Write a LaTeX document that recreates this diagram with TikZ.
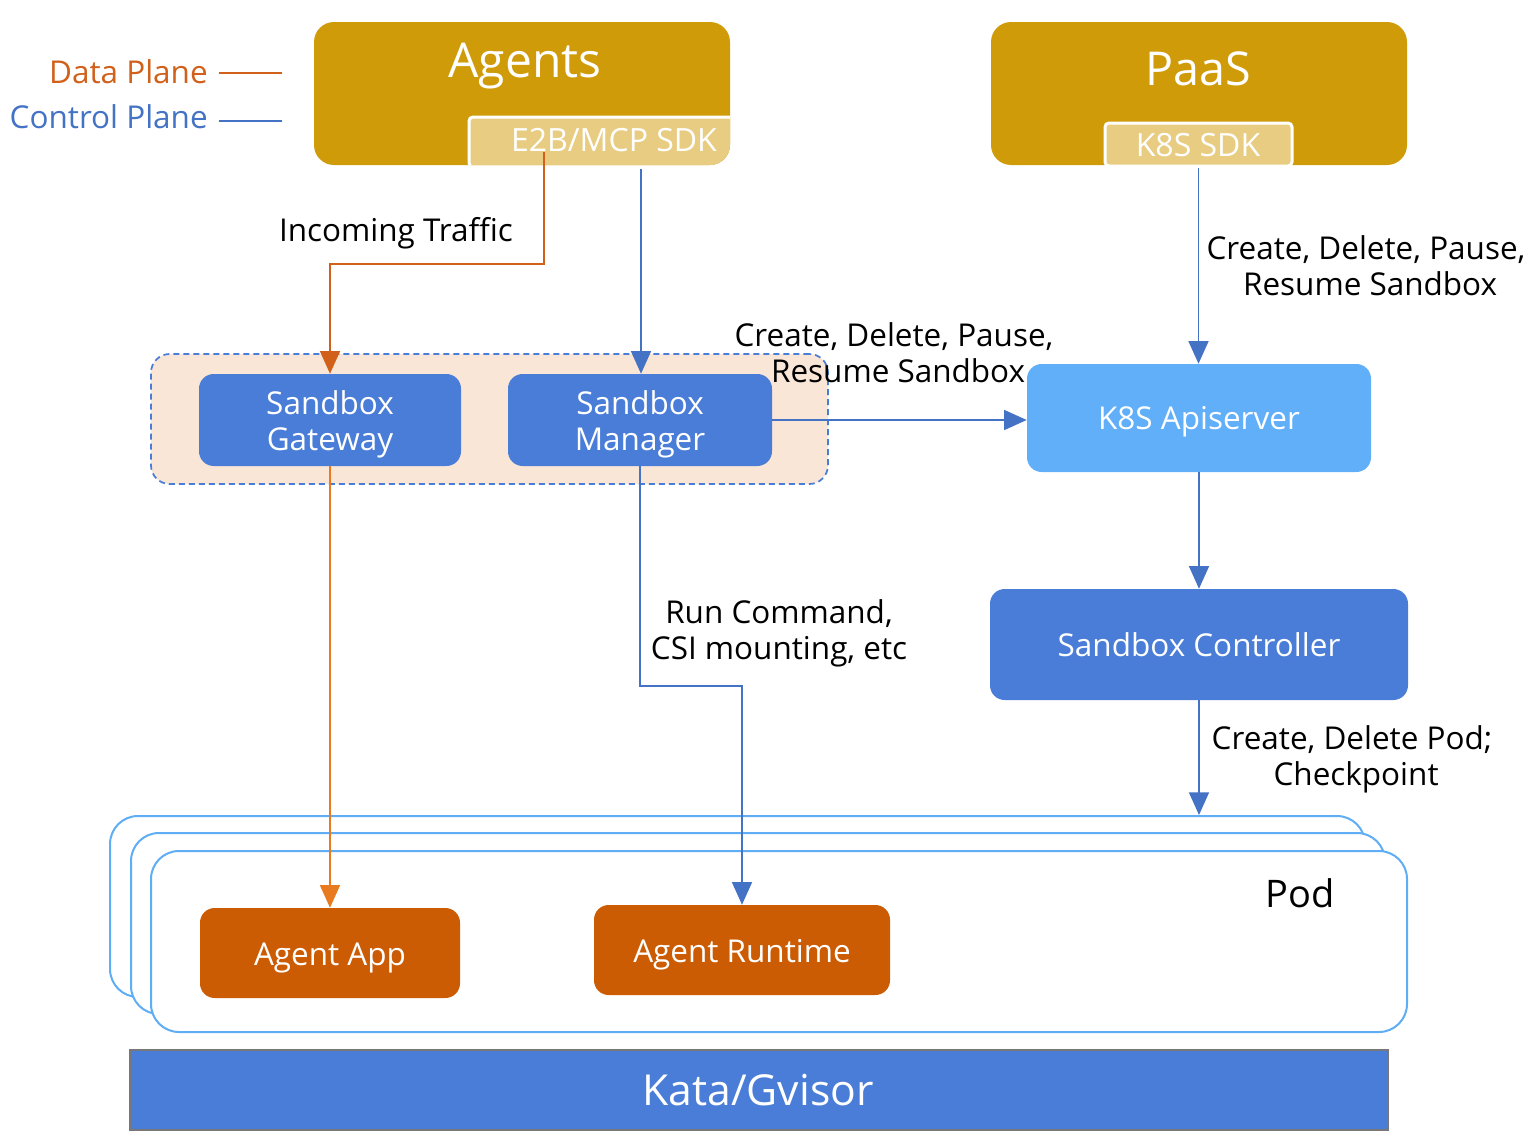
\documentclass[tikz,border=0pt]{standalone}
\usepackage{fontspec}
\setmainfont{Open Sans}
\usetikzlibrary{arrows.meta,fit}
\definecolor{gold}{RGB}{208,155,8}
\definecolor{sdkfill}{RGB}{232,204,130}
\definecolor{boxblue}{RGB}{74,125,216}
\definecolor{apiblue}{RGB}{97,174,249}
\definecolor{boxorange}{RGB}{204,92,3}
\definecolor{peach}{RGB}{249,230,215}
\definecolor{ctlblue}{RGB}{68,114,196}
\definecolor{dataorange}{RGB}{208,96,26}
\definecolor{appline}{RGB}{232,122,32}
\definecolor{podline}{RGB}{95,174,245}
\definecolor{katagray}{RGB}{120,120,120}
\tikzset{
  lbl/.style={font=\fontsize{23.6}{27}\selectfont, align=center, inner sep=0pt, text=black},
  boxtxt/.style={font=\fontsize{23.6}{27}\selectfont, align=center, text=white, inner sep=0pt},
  bluebox/.style={fit={#1}, inner sep=0pt, fill=boxblue, rounded corners=11pt},
  apibox/.style={fit={#1}, inner sep=0pt, fill=apiblue, rounded corners=11pt},
  orangebox/.style={fit={#1}, inner sep=0pt, fill=boxorange, rounded corners=11pt},
  topbox/.style={fit={#1}, inner sep=0pt, fill=gold, rounded corners=15pt},
  sdkbox/.style={fit={#1}, inner sep=0pt, fill=sdkfill, draw=white, line width=2.25pt, rounded corners=3pt},
  groupbox/.style={fit={#1}, inner sep=0pt, fill=peach, draw=boxblue, line width=1.3pt, dash pattern=on 4.5pt off 3pt, rounded corners=14pt},
  podbox/.style={fit={#1}, inner sep=0pt, fill=white, draw=podline, line width=1.5pt, rounded corners=21pt},
  katabox/.style={fit={#1}, inner sep=0pt, fill=boxblue, draw=katagray, line width=1.5pt},
  ctlarrow/.style={draw=ctlblue, line width=1.2pt, -{Triangle[length=17pt,width=15pt]}},
  dataarrow/.style={draw=#1, line width=1.2pt, -{Triangle[length=17pt,width=15pt]}},
  legline/.style={draw=#1, line width=1.5pt},
}
\begin{document}
\begin{tikzpicture}[x=0.75pt,y=-0.75pt]
\useasboundingbox (0,0) rectangle (1532,1146);

% legend
\node[font=\fontsize{23.6}{27}\selectfont, text=dataorange, anchor=east, inner sep=0pt] (dp) at (208,72) {Data Plane};
\node[font=\fontsize{23.6}{27}\selectfont, text=ctlblue, anchor=east, inner sep=0pt] (cp) at (208,117) {Control Plane};
\coordinate (dpa) at (219,73); \coordinate (dpb) at (282,73);
\coordinate (cpa) at (219,121); \coordinate (cpb) at (282,121);
\draw[legline=dataorange] (dpa) -- (dpb);
\draw[legline=ctlblue] (cpa) -- (cpb);

% Agents
\node[topbox={(314,22)(730,165)}] (agents) {};
\node[font=\fontsize{36}{40}\selectfont, text=white, inner sep=0pt] (agentstxt) at (525,66) {Agents};
\begin{scope}
  \clip[rounded corners=15pt] (314,22) rectangle (730,165);
  \node[sdkbox={(469,117)(733,167)}] (e2b) {};
\end{scope}
\node[font=\fontsize{24}{28}\selectfont, text=white, inner sep=0pt] (e2btxt) at (614,140) {E2B/MCP SDK};

% PaaS
\node[topbox={(991,22)(1407,165)}] (paas) {};
\node[font=\fontsize{35}{40}\selectfont, text=white, inner sep=0pt] (paastxt) at (1198,69) {PaaS};
\node[sdkbox={(1105,123)(1292,166)}] (k8ssdk) {};
\node[font=\fontsize{24}{28}\selectfont, text=white, inner sep=0pt] (k8stxt) at (1198,145) {K8S SDK};

% group
\node[groupbox={(151,354)(828,484)}] (grp) {};
\node[bluebox={(199,374)(461,466)}] (gw) {};
\node[boxtxt] (gwtxt) at (330,424) {Sandbox\\Gateway};
\node[bluebox={(508,374)(772,466)}] (mgr) {};
\node[boxtxt] (mgrtxt) at (640,424) {Sandbox\\Manager};

% K8S
\node[apibox={(1027,364)(1371,472)}] (api) {};
\node[boxtxt] (apitxt) at (1199,422) {K8S Apiserver};
\node[bluebox={(990,589)(1408,700)}] (ctl) {};
\node[boxtxt] (ctltxt) at (1199,645) {Sandbox Controller};

% pods
\node[podbox={(110,816)(1365,997)}] (pod1) {};
\node[podbox={(131,833)(1385,1014)}] (pod2) {};
\node[podbox={(151,851)(1407,1032)}] (pod3) {};
\node[font=\fontsize{28.5}{32}\selectfont, inner sep=0pt] (podtxt) at (1300,893) {Pod};
\node[orangebox={(200,908)(460,998)}] (app) {};
\node[boxtxt] (apptxt) at (330,958) {Agent App};
\node[orangebox={(594,905)(890,995)}] (rt) {};
\node[boxtxt] (rttxt) at (742,955) {Agent Runtime};

% kata
\node[katabox={(130,1050)(1388,1130)}] (kata) {};
\node[font=\fontsize{32}{36}\selectfont, text=white, inner sep=0pt] (katatxt) at (758,1090) {Kata/Gvisor};

% connectors
\coordinate (o1) at (544,0);
\coordinate (c1) at (641,0);
\coordinate (t1) at (330,264);
\coordinate (t2) at (742,686);
\draw[dataarrow=dataorange] (e2btxt.south -| o1) |- (t1) -- (gw.north);
\draw[ctlarrow] (e2b.south -| c1) -- (c1 |- mgr.north);
\draw[ctlarrow] (mgr.east) -- (mgr.east -| api.west);
\draw[ctlarrow] (k8ssdk.south) -- (k8ssdk.south |- api.north);
\draw[ctlarrow] (api.south) -- (ctl.north);
\draw[ctlarrow] (ctl.south) -- (ctl.south |- pod1.north);
\draw[dataarrow=appline] (gw.south) -- (gw.south |- app.north);
\draw[ctlarrow] (mgr.south) |- (t2) -- (t2 |- rt.north);

% labels
\node[lbl] (l1) at (396,233) {Incoming Traffic};
\node[lbl] (l2) at (894,353) {Create, Delete, Pause,\\ \ Resume Sandbox};
\node[lbl] (l3) at (1366,266) {Create, Delete, Pause,\\ \ Resume Sandbox};
\node[lbl] (l4) at (779,633) {Run Command,\\CSI mounting, etc};
\node[lbl] (l5) at (1352,759) {Create, Delete Pod;\\ \ Checkpoint};
\end{tikzpicture}
\end{document}
